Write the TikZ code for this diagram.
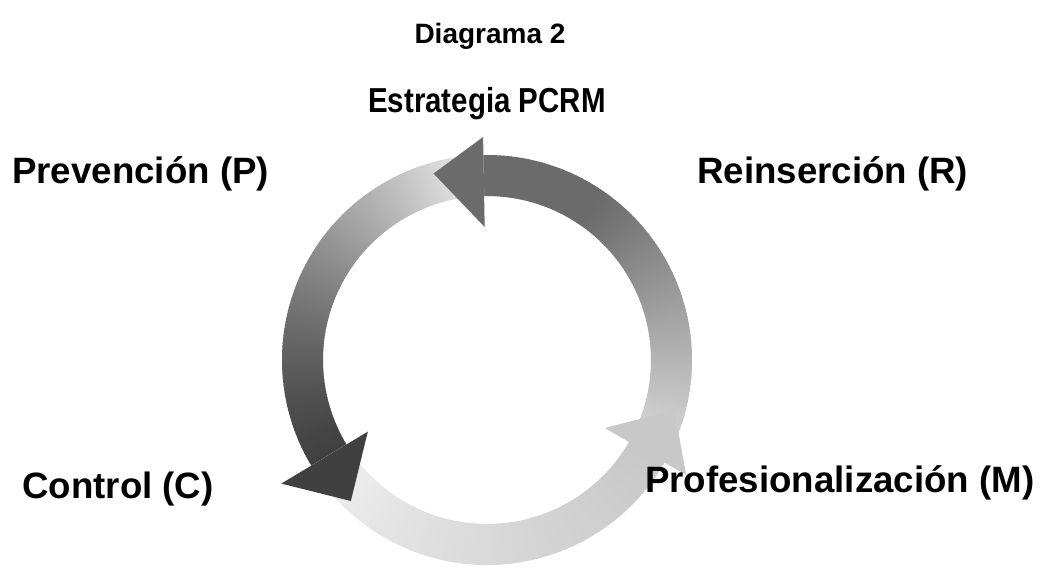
\documentclass[tikz,border=0pt]{standalone}
\usepackage{fontspec}
\setmainfont{Liberation Sans}
\newfontfamily\narrowfont[FakeStretch=0.85]{Liberation Sans}
\definecolor{headtop}{gray}{0.42}
\definecolor{headleft}{gray}{0.25}
\definecolor{headbot}{gray}{0.784}
\begin{document}
\begin{tikzpicture}[x=0.75pt,y=0.75pt,
  lbl/.style={inner sep=0pt, anchor=base west, font=\fontsize{27.5}{33}\selectfont\bfseries},
  ttl/.style={inner sep=0pt, anchor=base}]
\useasboundingbox (-487,-209) rectangle (557,360);
\def\Rin{164}
\def\Rout{205}
% body of top arrow (-30 -> 91)
\foreach \i in {0,...,120} {
  \pgfmathsetmacro\a{-30+\i}
  \pgfmathsetmacro\b{\a+1.4}
  \pgfmathsetmacro\t{\i/121}
  \pgfmathsetmacro\g{107+113*max(0,1-\t/0.7)}
  \pgfmathsetmacro\k{100*(1-\g/255)}
  \fill[black!\k] (\a:\Rin) arc[start angle=\a, end angle=\b, radius=\Rin] -- (\b:\Rout) arc[start angle=\b, end angle=\a, radius=\Rout] -- cycle;
}
% body of left arrow (91 -> 211)
\foreach \i in {0,...,119} {
  \pgfmathsetmacro\a{91+\i}
  \pgfmathsetmacro\b{\a+1.4}
  \pgfmathsetmacro\t{\i/120}
  \pgfmathsetmacro\g{64+176*pow(1-\t,1.3)}
  \pgfmathsetmacro\k{100*(1-\g/255)}
  \fill[black!\k] (\a:\Rin) arc[start angle=\a, end angle=\b, radius=\Rin] -- (\b:\Rout) arc[start angle=\b, end angle=\a, radius=\Rout] -- cycle;
}
% body of bottom arrow (211 -> 330)
\foreach \i in {0,...,118} {
  \pgfmathsetmacro\a{211+\i}
  \pgfmathsetmacro\b{\a+1.4}
  \pgfmathsetmacro\t{max(\i/119,0.001)}
  \pgfmathsetmacro\g{244-44*pow(\t,0.7)}
  \pgfmathsetmacro\k{100*(1-\g/255)}
  \fill[black!\k] (\a:\Rin) arc[start angle=\a, end angle=\b, radius=\Rin] -- (\b:\Rout) arc[start angle=\b, end angle=\a, radius=\Rout] -- cycle;
}
% arrow heads
\fill[headtop] (91:133) -- (91:223) -- (106:194) -- cycle;
\fill[headleft] (211:139) -- (211:240) -- (226:196) -- cycle;
\fill[headbot] (330:136) -- (330:230) -- (345:194) -- cycle;
% texts
\node[ttl, font=\fontsize{21}{25}\selectfont\bfseries] (diag) at (3,317) {Diagrama 2};
\node[ttl, font=\narrowfont\fontsize{26}{30}\selectfont\bfseries] (est) at (0,248) {Estrategia PCRM};
\node[lbl] (prev) at (-475,177) {Prevención (P)};
\node[lbl] (rein) at (210,177) {Reinserción (R)};
\node[lbl] (ctrl) at (-465,-138) {Control (C)};
\node[lbl] (prof) at (158,-132) {Profesionalización (M)};
\end{tikzpicture}
\end{document}
